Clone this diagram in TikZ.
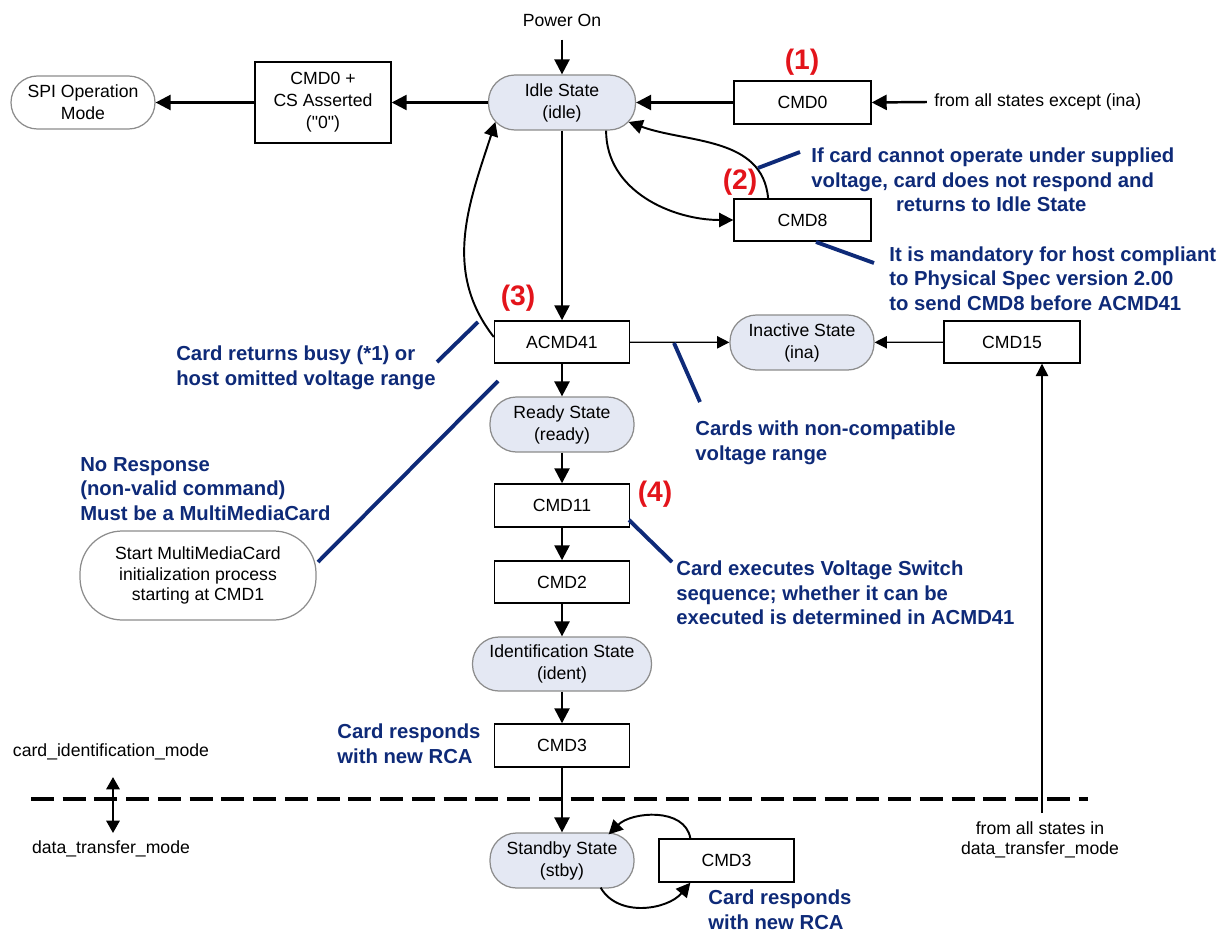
\documentclass[tikz,border=0pt]{standalone}
\usepackage{fontspec}
\setmainfont{Liberation Sans}
\usetikzlibrary{arrows.meta,calc}
\definecolor{pillfill}{HTML}{E4E8F3}
\definecolor{pilldraw}{HTML}{8C8C8C}
\definecolor{navy}{HTML}{0E2A78}
\definecolor{redlab}{HTML}{E3141B}
\def\U{0.567pt}
\begin{document}
\begin{tikzpicture}[x=0.567pt,y=-0.567pt,
  every node/.style={font=\fontsize{10}{12.5}\selectfont},
  box/.style={draw=black, line width=0.8pt, fill=white, minimum width=135*\U, minimum height=42*\U, align=center, inner sep=1pt},
  pill/.style={draw=pilldraw, line width=0.7pt, fill=pillfill, minimum width=144*\U, minimum height=55*\U, rounded corners=15pt, align=center, inner sep=1pt},
  wpill/.style={pill, fill=white},
  arr/.style={-{Triangle[length=8.5pt,width=8.5pt]}, line width=1.4pt},
  carr/.style={-{Triangle[length=8pt,width=8pt]}, line width=1.1pt},
  tarr/.style={-{Triangle[length=7pt,width=7pt]}, line width=0.7pt},
  note/.style={text=navy, font=\bfseries\fontsize{11.5}{14}\selectfont, align=left, inner sep=0pt},
  call/.style={draw=navy, line width=2.2pt},
  num/.style={text=redlab, font=\bfseries\fontsize{16}{18}\selectfont, inner sep=0pt},
]
\useasboundingbox (0,0) rectangle (1227,932);

% nodes
\node (power) at (562,20) {Power On};
\node[pill, minimum width=147*\U] (idle) at (562,102.5) {Idle State\\(idle)};
\node[box, minimum width=136*\U, minimum height=81*\U] (cmd0cs) at (323,102.5) {CMD0 +\\CS Asserted\\(\textquotedbl 0\textquotedbl)};
\node[wpill, minimum height=53*\U] (spi) at (83,102.5) {SPI Operation\\Mode};
\node[box, minimum width=137*\U, minimum height=43*\U] (cmd0) at (802.5,102.5) {CMD0};
\node[anchor=west, inner sep=0pt] (fromall) at (934,102) {from all states except (ina)};
\node[num] (n1) at (802,62) {(1)};
\node[box, minimum width=137*\U] (cmd8) at (802.5,220) {CMD8};
\node[num] (n2) at (740,182) {(2)};
\node[note, anchor=west] (t2) at (811,180) {If card cannot operate under supplied\\voltage, card does not respond and\\\hspace*{48pt}returns to Idle State};
\node[note, anchor=west] (t8) at (889,278.5) {It is mandatory for host compliant\\to Physical Spec version 2.00\\to send CMD8 before ACMD41};

\node[box] (acmd41) at (562,342) {ACMD41};
\node[num] (n3) at (518,298) {(3)};
\node[pill] (ready) at (562,424.5) {Ready State\\(ready)};
\node[box, minimum height=43*\U] (cmd11) at (562,505.5) {CMD11};
\node[num] (n4) at (655,494) {(4)};
\node[box] (cmd2) at (562,582) {CMD2};
\node[pill, minimum width=179*\U, minimum height=54*\U] (ident) at (562,664) {Identification State\\(ident)};
\node[box, minimum height=43*\U] (cmd3) at (562,745.5) {CMD3};
\node[pill] (stby) at (562,860.5) {Standby State\\(stby)};
\node[box, minimum height=43*\U] (cmd3b) at (726.5,860.5) {CMD3};
\node[pill] (ina) at (802,342.5) {Inactive State\\(ina)};
\node[box, minimum width=136*\U] (cmd15) at (1012,342) {CMD15};
\node[wpill, minimum width=236*\U, minimum height=89*\U, rounded corners=24pt, font=\fontsize{10}{11.8}\selectfont] (mmc) at (198,575.5) {Start MultiMediaCard\\initialization process\\starting at CMD1};

\node[note, anchor=west] (tbusy) at (176,368) {Card returns busy (*1) or\\host omitted voltage range};
\node[note, anchor=west] (tnr) at (80,489) {No Response\\(non-valid command)\\Must be a MultiMediaCard};
\node[note, anchor=west] (tnc) at (695,442.5) {Cards with non-compatible\\voltage range};
\node[note, anchor=west] (tvs) at (676,593) {Card executes Voltage Switch\\sequence; whether it can be\\executed is determined in ACMD41};
\node[note, anchor=west] (trca) at (337,743.5) {Card responds\\with new RCA};
\node[note, anchor=west] (trcb) at (708,910) {Card responds\\with new RCA};
\node (cim) at (111,752) {card\_identification\_mode};
\node (dtm) at (111,849) {data\_transfer\_mode};
\node[align=center, font=\fontsize{10}{11.5}\selectfont] (fadt) at (1040,840) {from all states in\\data\_transfer\_mode};

% coordinates
\coordinate (dl) at (31,799);
\coordinate (dr) at (1088,799);
\coordinate (m1) at (113,777);
\coordinate (m2) at (113,833);
\coordinate (dtbot) at (1042,813);
\coordinate (c2a) at (758,168);
\coordinate (c2b) at (800,152);
\coordinate (c8a) at (816,242);
\coordinate (c8b) at (874,263);
\coordinate (cba) at (437,362);
\coordinate (cbb) at (478,322);
\coordinate (cna) at (498,381);
\coordinate (cnb) at (318,562);
\coordinate (cia) at (674,343);
\coordinate (cib) at (700,402);
\coordinate (cva) at (629,520);
\coordinate (cvb) at (672,562);

% dashed mode separator
\draw[line width=2.8pt, dash pattern=on 13pt off 5pt] (dl) -- (dr);
\draw[{Triangle[length=7pt,width=7.5pt]}-{Triangle[length=7pt,width=7.5pt]}, line width=1.4pt] (m1) -- (m2);

% connectors
\draw[arr] ([yshift=-4pt]power.south) -- (idle.north);
\draw[arr] (idle) -- (cmd0cs);
\draw[arr] (cmd0cs) -- (spi);
\draw[arr] (cmd0) -- (idle);
\draw[arr] ([xshift=-4pt]fromall.west) -- (cmd0.east);
\draw[arr] (idle) -- (acmd41);
\draw[carr] ([xshift=25pt]idle.south) to[out=-90,in=180] (cmd8.west);
\draw[carr] ([xshift=-19.5pt]cmd8.north) to[out=95,in=-20] ($(idle.east)+(-7.5,19.5)$);
\draw[carr] ($(acmd41.west)+(0,-5)$) to[out=128,in=-108] ($(idle.west)+(7.5,19.5)$);
\draw[arr] (acmd41) -- (ready);
\draw[arr] (ready) -- (cmd11);
\draw[arr] (cmd11) -- (cmd2);
\draw[arr] (cmd2) -- (ident);
\draw[arr] (ident) -- (cmd3);
\draw[arr] (cmd3) -- (stby);
\draw[tarr] (acmd41) -- (ina);
\draw[tarr] (cmd15) -- (ina);
\draw[tarr] (dtbot) -- (dtbot |- cmd15.south);
\draw[carr] ([xshift=-20.5pt]cmd3b.north) to[out=100,in=45] ($(stby.north east)+(-26,2)$);
\draw[carr] ($(stby.south east)+(-34,-1)$) to[out=-60,in=-130] ([xshift=-20.5pt]cmd3b.south);

% callouts
\draw[call] (c2a) -- (c2b);
\draw[call] (c8a) -- (c8b);
\draw[call] (cba) -- (cbb);
\draw[call] (cna) -- (cnb);
\draw[call] (cia) -- (cib);
\draw[call] (cva) -- (cvb);
\end{tikzpicture}
\end{document}
